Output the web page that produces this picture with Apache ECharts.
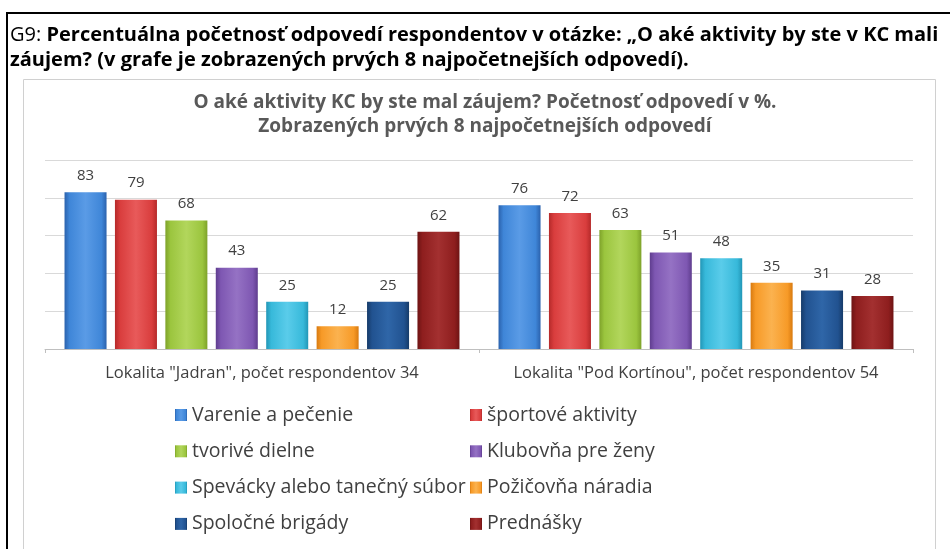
<!DOCTYPE html>
<html><head><meta charset="utf-8">
<script src="https://cdn.jsdelivr.net/npm/echarts@6/dist/echarts.min.js"></script>
<style>html,body{margin:0;padding:0;background:#fff}#c{width:950px;height:549px}</style>
</head><body><div id="c"></div>
<script>
const categories = ['Lokalita "Jadran", počet respondentov 34', 'Lokalita "Pod Kortínou", počet respondentov 54'];
const seriesNames = ['Varenie a pečenie','športové aktivity','tvorivé dielne','Klubovňa pre ženy','Spevácky alebo tanečný súbor','Požičovňa náradia','Spoločné brigády','Prednášky'];
const varenie = [83, 76];
const sport = [79, 72];
const tvorive = [68, 63];
const klubovna = [43, 51];
const spevacky = [25, 48];
const pozicovna = [12, 35];
const brigady = [25, 31];
const prednasky = [62, 28];
const seriesValues = [varenie, sport, tvorive, klubovna, spevacky, pozicovna, brigady, prednasky];
const colors = [
  ['#2b62ad','#3f86d8','#5a9be6'],
  ['#b52a2a','#d93d3d','#e85a5a'],
  ['#7ea22a','#9bc53e','#b2d65c'],
  ['#5f3d8e','#7e57b2','#9572c4'],
  ['#2296b6','#37b9da','#5accea'],
  ['#d87a10','#f79a27','#fbb24f'],
  ['#163b69','#215290','#2f66a8'],
  ['#6e1414','#8e1e1e','#a33030']
];
const FONT = 'Open Sans';
function grad(c){
  return new echarts.graphic.LinearGradient(0,0,1,0,[
    {offset:0,color:c[0]},{offset:0.12,color:c[1]},{offset:0.5,color:c[2]},{offset:0.88,color:c[1]},{offset:1,color:c[0]}
  ]);
}
const chart = echarts.init(document.getElementById('c'));
const series = seriesNames.map((n,i)=>({
  name:n, type:'bar', data:seriesValues[i],
  barGap:'20%', barCategoryGap:'9%',
  itemStyle:{color:grad(colors[i])},
  label:{show:true, position:'top', distance:9, fontSize:15, color:'#404040', fontFamily:FONT}
}));
const legendText = {fontSize:19.5, color:'#404040', fontFamily:FONT, lineHeight:22};
chart.setOption({
  animation:false,
  color: colors.map(c=>c[1]),
  graphic:[
    {type:'rect', shape:{x:7,y:13,width:1000,height:600}, style:{fill:'none', stroke:'#000', lineWidth:2}, silent:true},
    {type:'rect', shape:{x:23.5,y:79.5,width:912,height:480}, style:{fill:'none', stroke:'#d0d0d0', lineWidth:1}, silent:true},
    {type:'text', left:10, top:25, style:{
      text:'{n|G9: }{b|Percentuálna početnosť odpovedí respondentov v otázke: „O aké aktivity by ste v KC mali}',
      rich:{n:{fontSize:20,fontFamily:FONT,fill:'#000'}, b:{fontSize:20,fontFamily:FONT,fontWeight:'bold',fill:'#000'}}
    }},
    {type:'text', left:10, top:50, style:{
      text:'záujem? (v grafe je zobrazených prvých 8 najpočetnejších odpovedí).',
      fontSize:20, fontFamily:FONT, fontWeight:'bold', fill:'#000'
    }}
  ],
  title:{
    text:'O aké aktivity KC by ste mal záujem? Početnosť odpovedí v %.\nZobrazených prvých 8 najpočetnejších odpovedí',
    left:480, textAlign:'center', top:86,
    textStyle:{fontSize:19, fontWeight:'bold', color:'#595959', fontFamily:FONT, lineHeight:24}
  },
  legend:[
    {orient:'vertical', left:175, top:404, padding:0, itemWidth:12, itemHeight:12, itemGap:14.3, icon:'rect',
     data:[seriesNames[0],seriesNames[2],seriesNames[4],seriesNames[6]], textStyle:legendText, selectedMode:false},
    {orient:'vertical', left:470, top:404, padding:0, itemWidth:12, itemHeight:12, itemGap:14.3, icon:'rect',
     data:[seriesNames[1],seriesNames[3],seriesNames[5],seriesNames[7]], textStyle:legendText, selectedMode:false}
  ],
  grid:{left:45, right:37, top:160, bottom:200},
  xAxis:{type:'category', data:categories,
    axisLine:{lineStyle:{color:'#bfbfbf'}},
    axisTick:{show:true, length:4, lineStyle:{color:'#bfbfbf'}},
    axisLabel:{interval:0, fontSize:16.5, color:'#404040', fontFamily:FONT, margin:16}
  },
  yAxis:{type:'value', min:0, max:100, interval:20,
    axisLine:{show:false}, axisTick:{show:false}, axisLabel:{show:false},
    splitLine:{lineStyle:{color:'#d9d9d9'}}
  },
  series
});
</script></body></html>
